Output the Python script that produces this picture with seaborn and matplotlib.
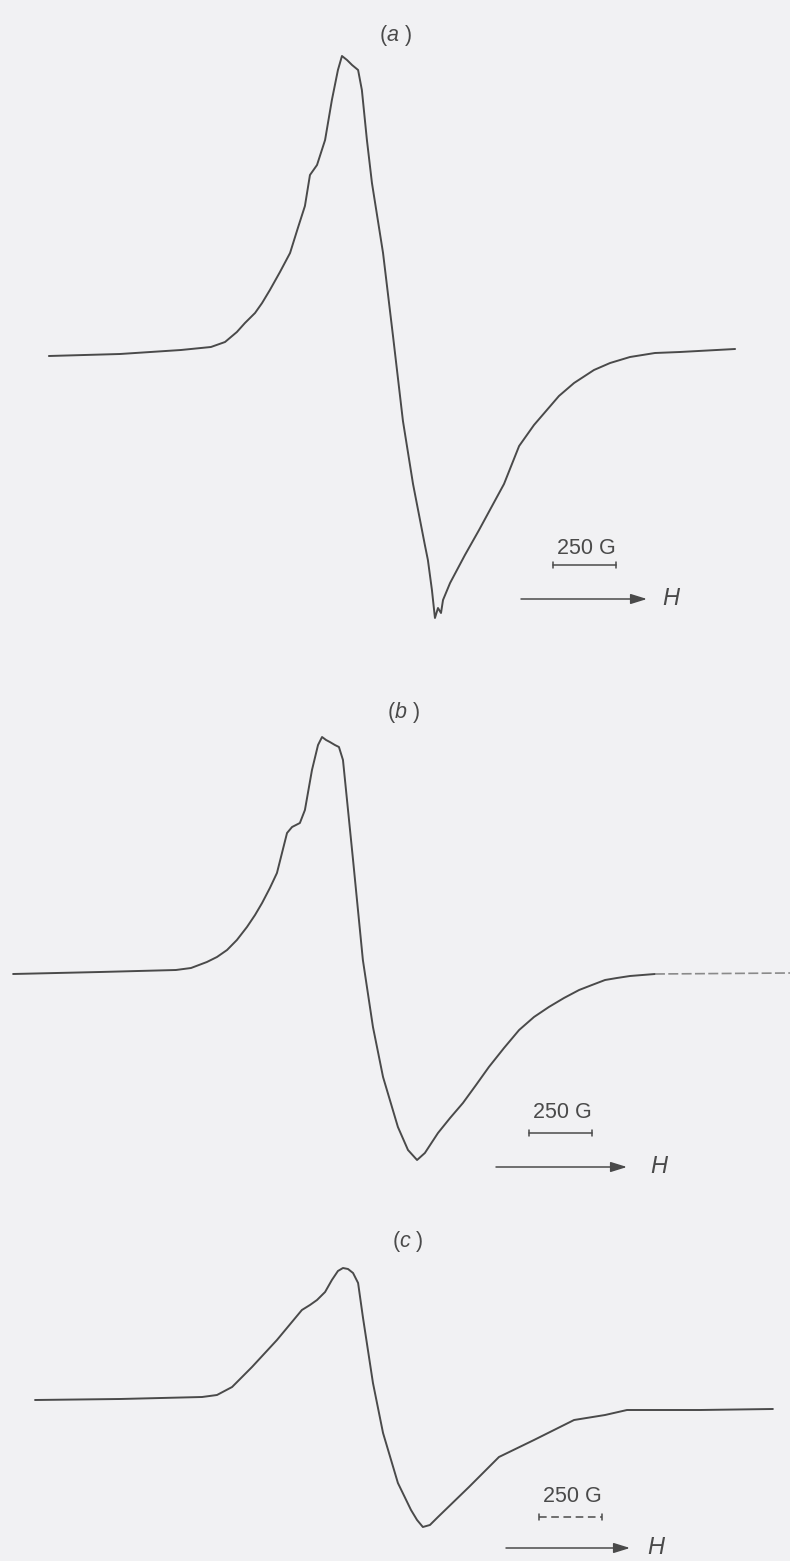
import matplotlib
matplotlib.use("Agg")
import matplotlib.pyplot as plt
import seaborn as sns

# ---- data (field in gauss, derivative signal in arbitrary units) ----
field_a = [194, 476, 718, 837, 893, 940, 972, 1012, 1040, 1071, 1111, 1151, 1182, 1210, 1230,
           1258, 1290, 1317, 1341, 1357, 1377, 1397, 1421, 1436, 1456, 1476, 1520, 1560, 1599,
           1639, 1686, 1698, 1714, 1726, 1738, 1750, 1758, 1786, 1845, 1901, 1944, 2000, 2060,
           2119, 2218, 2278, 2357, 2421, 2500, 2599, 2698, 2917]
signal_a = [-4, -2, 2, 5, 10, 20, 29, 39, 49, 62, 80, 99, 124, 146, 177,
            187, 212, 252, 282, 296, 292, 287, 282, 262, 212, 169, 99, 15, -69,
            -132, -193, -208, -238, -266, -256, -261, -248, -231, -203, -178, -158, -132, -94,
            -73, -44, -31, -18, -11, -5, -1, 0, 3]

field_b = [52, 397, 698, 758, 821, 861, 901, 940, 980, 1012, 1040, 1071, 1099, 1139, 1159,
           1190, 1210, 1238, 1262, 1278, 1294, 1309, 1329, 1345, 1361, 1401, 1440, 1480, 1520,
           1579, 1619, 1655, 1686, 1738, 1786, 1837, 1889, 1940, 2000, 2060, 2119, 2178, 2238,
           2298, 2349, 2401, 2448, 2500, 2599]
signal_b = [-4, -2, 0, 2, 8, 13, 20, 30, 43, 55, 67, 82, 97, 137, 143,
            147, 160, 200, 225, 233, 230, 228, 225, 223, 210, 110, 10, -57, -107,
            -157, -180, -190, -183, -163, -148, -133, -115, -97, -78, -60, -47, -37, -28,
            -20, -15, -10, -8, -6, -4]
field_b_tail = [2599, 3135]
signal_b_tail = [-4, -3]

field_c = [139, 476, 802, 861, 921, 1000, 1099, 1198, 1230, 1258, 1290, 1317, 1341, 1361, 1381,
           1401, 1421, 1440, 1480, 1520, 1579, 1631, 1655, 1678, 1706, 1738, 1861, 1980, 2119,
           2278, 2401, 2488, 2778, 3067]
signal_c = [0, 1, 3, 5, 13, 33, 60, 90, 95, 100, 108, 120, 129, 132, 131,
            127, 117, 83, 17, -33, -83, -110, -120, -127, -125, -117, -87, -57, -40,
            -20, -15, -10, -10, -9]

panel_labels = ["a", "b", "c"]
scale_text = "250 G"
scale_len_gauss = 250
axis_label = "H"

# ---- figure ----
sns.set_style("white")
plt.rcParams["font.family"] = ["Liberation Sans", "DejaVu Sans"]
plt.rcParams["mathtext.fontset"] = "custom"
plt.rcParams["mathtext.it"] = "Liberation Sans:italic"
plt.rcParams["mathtext.rm"] = "Liberation Sans"

W, H = 790, 1561
BG = "#f1f1f3"
LC = "#4a4a4a"
fig = plt.figure(figsize=(W / 100, H / 100), dpi=100, facecolor=BG)

G_PER_PX = 250 / 63.0
XMAX = W * G_PER_PX


def fx(x):
    return x / W


def fy(y):
    return 1 - y / H


def make_axes(base_px):
    ax = fig.add_axes([0, 0, 1, 1])
    ax.set_xlim(0, XMAX)
    ax.set_ylim(base_px - H, base_px)
    ax.set_axis_off()
    ax.patch.set_alpha(0)
    return ax


def draw_scale(ax, base_px, label_xy, bar_x0_px, bar_y_px, arrow_x, arrow_y, h_xy, dashed=False):
    fig.text(fx(label_xy[0]), fy(label_xy[1]), scale_text, fontsize=15.5, color=LC,
             ha="center", va="center")
    x0 = bar_x0_px * G_PER_PX
    x1 = x0 + scale_len_gauss
    yb = base_px - bar_y_px
    ax.plot([x0, x1], [yb, yb], color=LC, lw=1.1, ls=(0, (5, 3)) if dashed else "-")
    for xx in (x0, x1):
        ax.plot([xx, xx], [yb - 3, yb + 3], color=LC, lw=1.1)
    fig.add_artist(matplotlib.patches.FancyArrowPatch(
        (fx(arrow_x[0]), fy(arrow_y)), (fx(arrow_x[1]), fy(arrow_y)),
        transform=fig.transFigure, arrowstyle="-|>,head_length=4.5,head_width=1.4",
        color=LC, lw=1.1, mutation_scale=2.2, shrinkA=0, shrinkB=0))
    fig.text(fx(h_xy[0]), fy(h_xy[1]), r"$\mathit{" + axis_label + "}$", fontsize=17,
             color=LC, ha="center", va="center")


# panel (a)
ax_a = make_axes(352)
sns.lineplot(x=field_a, y=signal_a, ax=ax_a, color=LC, lw=1.4, sort=False)
fig.text(fx(395), fy(36), r"($\mathit{" + panel_labels[0] + "}$ )", fontsize=15.5,
         color=LC, ha="center", va="center")
draw_scale(ax_a, 352, (586, 548), 553, 565, (521, 647), 599, (672, 599))

# panel (b)
ax_b = make_axes(970)
sns.lineplot(x=field_b, y=signal_b, ax=ax_b, color=LC, lw=1.4, sort=False)
sns.lineplot(x=field_b_tail, y=signal_b_tail, ax=ax_b, color="#8a8a8a", lw=1.2,
             sort=False, linestyle=(0, (6, 2)))
fig.text(fx(403), fy(713), r"($\mathit{" + panel_labels[1] + "}$ )", fontsize=15.5,
         color=LC, ha="center", va="center")
draw_scale(ax_b, 970, (562, 1113), 529, 1133, (496, 627), 1167, (660, 1167))

# panel (c)
ax_c = make_axes(1400)
sns.lineplot(x=field_c, y=signal_c, ax=ax_c, color=LC, lw=1.4, sort=False)
fig.text(fx(408), fy(1242), r"($\mathit{" + panel_labels[2] + "}$ )", fontsize=15.5,
         color=LC, ha="center", va="center")
draw_scale(ax_c, 1400, (572, 1497), 539, 1517, (506, 630), 1548, (657, 1548), dashed=True)

fig.savefig("out.png", dpi=100, facecolor=BG)
